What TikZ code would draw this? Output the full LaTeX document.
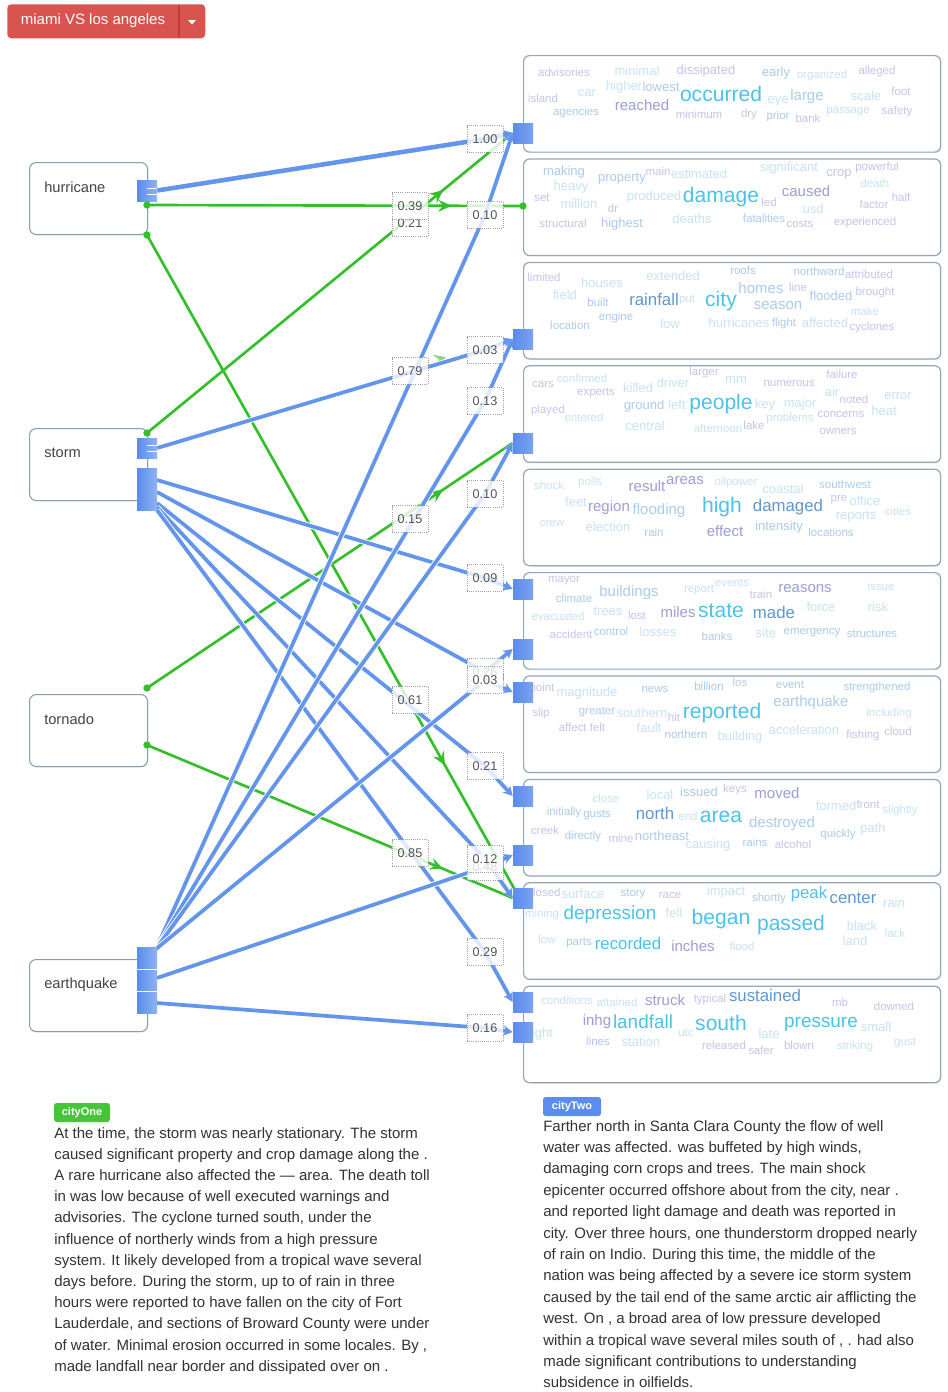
\documentclass[tikz,border=0pt]{standalone}
\usepackage{fontspec}
\setmainfont{Liberation Sans}
\usetikzlibrary{arrows.meta,decorations.markings,shadows}
\definecolor{cX}{HTML}{4CC2EB}
\definecolor{cB}{HTML}{5E98D2}
\definecolor{cU}{HTML}{9C9FD5}
\definecolor{cL}{HTML}{ABCCEC}
\definecolor{cP}{HTML}{C4C5EB}
\definecolor{cQ}{HTML}{C8E3F5}
\definecolor{edgeblue}{HTML}{6495ED}
\definecolor{portblue}{HTML}{5A8CEB}
\definecolor{portlight}{HTML}{8FB3F3}
\definecolor{edgegreen}{HTML}{35BF2C}
\definecolor{boxborder}{HTML}{93A7B8}
\definecolor{lboxborder}{HTML}{849FB6}
\definecolor{btnred}{HTML}{D9534F}
\definecolor{btnline}{HTML}{C23D39}
\definecolor{badgegreen}{HTML}{46C53A}
\definecolor{badgeblue}{HTML}{5B8DEF}
\definecolor{bodytext}{HTML}{333333}
\definecolor{labgray}{HTML}{555555}
\definecolor{nodetext}{HTML}{444444}
\newcounter{wn}
\newcommand\cwd[5]{\stepcounter{wn}\node[wnode,#1,text=#2] (w\arabic{wn}) at (#3,#4) {#5};}
\newcommand\pline[4]{\node[ptext] (#1) at (#2,#3) {#4};}
\pgfdeclarelayer{front}
\pgfsetlayers{main,front}
\begin{document}
\begin{tikzpicture}[x=0.75pt,y=-0.75pt,
  wnode/.style={inner sep=0pt, anchor=center},
  ws/.style={font=\fontsize{8.6}{9}\selectfont},
  wt/.style={font=\fontsize{9.75}{10}\selectfont},
  wm/.style={font=\fontsize{11.25}{12}\selectfont},
  wM/.style={font=\fontsize{12.6}{13}\selectfont},
  wb/.style={font=\fontsize{14.2}{15}\selectfont},
  wB/.style={font=\fontsize{15.8}{16}\selectfont},
  rbox/.style={draw=boxborder, line width=0.9pt, rounded corners=4.5pt, fill=white,
    minimum width=312.75pt, minimum height=72.4pt, anchor=north west, inner sep=0pt,
    drop shadow={opacity=0.12, shadow xshift=0.8pt, shadow yshift=-0.8pt}},
  lbox/.style={draw=lboxborder, line width=0.8pt, rounded corners=5pt, fill=white,
    minimum width=88.5pt, minimum height=54pt, anchor=north west, inner sep=0pt,
    drop shadow={opacity=0.12, shadow xshift=0.8pt, shadow yshift=-0.8pt}},
  ntext/.style={anchor=west, inner sep=0pt, text=nodetext, font=\fontsize{11}{12}\selectfont},
  lport/.style={inner sep=0pt, minimum width=15pt, left color=portblue, right color=portlight},
  rport/.style={inner sep=0pt, minimum width=15pt, minimum height=15pt, left color=portblue, right color=portblue!80!white},
  gdot/.style={circle, fill=edgegreen, minimum size=5.5pt, inner sep=0pt},
  bedge/.style={draw=edgeblue, line width=2.8pt, line join=round,
    preaction={draw=white, line width=4.2pt},
    -{Stealth[length=7pt,width=7.5pt,inset=2pt]}},
  bedgeT/.style={draw=edgeblue, line width=3.4pt, line join=round,
    preaction={draw=white, line width=4.8pt},
    -{Stealth[length=7pt,width=7.5pt,inset=2pt]}},
  gedge/.style={draw=edgegreen, line width=2pt,
    decoration={markings, mark=at position 0.81 with {\arrow[edgegreen]{Stealth[length=10pt,width=9pt,inset=3.5pt]}}},
    postaction={decorate}},
  lab/.style={draw=gray!75, densely dotted, line width=0.6pt, fill=white, fill opacity=0.8,
    text opacity=1, text=labgray, font=\fontsize{9.5}{10}\selectfont,
    minimum width=27pt, minimum height=20pt, inner sep=0pt},
  ptext/.style={anchor=base west, inner sep=0pt, text=bodytext, font=\fontsize{11.25}{12}\selectfont},
  badge/.style={inner sep=0pt, rounded corners=2pt, text=white, font=\bfseries\fontsize{8.25}{9}\selectfont, minimum height=14.25pt}
]
\fill[white] (0,0) rectangle (947,1392);
\useasboundingbox (0,0) rectangle (947,1392);

% ---------- button ----------
\node[fill=btnred, rounded corners=3pt, minimum width=148.5pt, minimum height=25.5pt, anchor=north west, inner sep=0pt] (btn) at (7,4) {};
\coordinate (dv1) at (179,4.5);
\coordinate (dv2) at (179,37.5);
\draw[btnline, line width=0.8pt] (dv1) -- (dv2);
\node[text=white, inner sep=0pt, font=\fontsize{11.25}{12}\selectfont] (btntext) at (93,21) {miami VS los angeles};
\fill[white] (188,20) -- (196,20) -- (192,24.5) -- cycle;

% ---------- right boxes ----------
\node[rbox] (box1) at (523,55) {};
\node[rbox] (box2) at (523,158.4) {};
\node[rbox] (box3) at (523,261.8) {};
\node[rbox] (box4) at (523,365.2) {};
\node[rbox] (box5) at (523,468.6) {};
\node[rbox] (box6) at (523,572) {};
\node[rbox] (box7) at (523,675.4) {};
\node[rbox] (box8) at (523,778.8) {};
\node[rbox] (box9) at (523,882.2) {};
\node[rbox] (box10) at (523,985.6) {};

% ---------- left boxes ----------
\node[lbox] (hur) at (29,162) {};
\node[lbox] (sto) at (29,428) {};
\node[lbox] (tor) at (29,694) {};
\node[lbox] (ear) at (29,959) {};
\node[ntext] (hurT) at (44,187) {hurricane};
\node[ntext] (stoT) at (44,453) {storm};
\node[ntext] (torT) at (44,719) {tornado};
\node[ntext] (earT) at (44,985) {earthquake};

% ---------- word clouds ----------
% box 1
\cwd{ws}{cP}{564}{72}{advisories}
\cwd{wt}{cQ}{637}{71}{minimal}
\cwd{wt}{cP}{706}{71}{dissipated}
\cwd{wt}{cL}{776}{73}{early}
\cwd{ws}{cQ}{822}{76}{organized}
\cwd{ws}{cP}{877}{72}{alleged}
\cwd{ws}{cP}{543}{98}{island}
\cwd{wt}{cQ}{587}{93}{car}
\cwd{wt}{cQ}{624}{87}{higher}
\cwd{wt}{cL}{661}{87}{lowest}
\cwd{wB}{cX}{721}{94}{occurred}
\cwd{wt}{cQ}{778}{101}{eye}
\cwd{wm}{cL}{807}{97}{large}
\cwd{wt}{cQ}{866}{96}{scale}
\cwd{ws}{cP}{901}{91}{foot}
\cwd{wm}{cU}{642}{105}{reached}
\cwd{ws}{cL}{576}{113}{agencies}
\cwd{ws}{cP}{699}{114}{minimum}
\cwd{ws}{cP}{749}{115}{dry}
\cwd{ws}{cL}{778}{117}{prior}
\cwd{ws}{cP}{808}{118}{bank}
\cwd{ws}{cQ}{848}{112}{passage}
\cwd{ws}{cP}{897}{112}{safety}
% box 2
\cwd{wt}{cL}{564}{172}{making}
\cwd{wt}{cL}{622}{179}{property}
\cwd{ws}{cP}{658}{171}{main}
\cwd{wt}{cQ}{699}{174}{estimated}
\cwd{wt}{cQ}{789}{168}{significant}
\cwd{wt}{cP}{839}{174}{crop}
\cwd{ws}{cP}{877}{168}{powerful}
\cwd{wt}{cQ}{571}{187}{heavy}
\cwd{ws}{cQ}{875}{183}{death}
\cwd{ws}{cP}{542}{198}{set}
\cwd{wt}{cQ}{579}{204}{million}
\cwd{ws}{cP}{613}{208}{dr}
\cwd{wt}{cQ}{654}{197}{produced}
\cwd{wB}{cX}{721}{197}{damage}
\cwd{ws}{cP}{769}{202}{led}
\cwd{wm}{cU}{806}{191}{caused}
\cwd{wt}{cQ}{813}{209}{usd}
\cwd{ws}{cP}{874}{204}{factor}
\cwd{ws}{cP}{901}{197}{half}
\cwd{ws}{cP}{563}{223}{structural}
\cwd{wt}{cL}{622}{224}{highest}
\cwd{wt}{cQ}{692}{219}{deaths}
\cwd{ws}{cL}{764}{218}{fatalities}
\cwd{ws}{cP}{800}{224}{costs}
\cwd{ws}{cP}{865}{223}{experienced}
% box 3
\cwd{ws}{cP}{544}{277}{limited}
\cwd{wt}{cQ}{602}{283}{houses}
\cwd{wt}{cQ}{673}{276}{extended}
\cwd{ws}{cL}{743}{270}{roofs}
\cwd{ws}{cL}{819}{271}{northward}
\cwd{ws}{cP}{869}{274}{attributed}
\cwd{wt}{cQ}{565}{295}{field}
\cwd{ws}{cL}{598}{302}{built}
\cwd{wM}{cB}{654}{299}{rainfall}
\cwd{ws}{cQ}{687}{300}{put}
\cwd{wB}{cX}{721}{301}{city}
\cwd{wm}{cL}{761}{288}{homes}
\cwd{ws}{cP}{798}{287}{line}
\cwd{wm}{cL}{778}{306}{season}
\cwd{wt}{cL}{831}{296}{flooded}
\cwd{ws}{cP}{875}{293}{brought}
\cwd{ws}{cQ}{865}{311}{make}
\cwd{ws}{cL}{570}{325}{location}
\cwd{ws}{cL}{616}{318}{engine}
\cwd{wt}{cQ}{670}{324}{low}
\cwd{wt}{cQ}{739}{323}{hurricanes}
\cwd{ws}{cL}{784}{324}{flight}
\cwd{wt}{cQ}{825}{323}{affected}
\cwd{ws}{cP}{872}{328}{cyclones}
% box 4
\cwd{ws}{cP}{543}{384}{cars}
\cwd{ws}{cQ}{582}{378}{confirmed}
\cwd{ws}{cP}{704}{373}{larger}
\cwd{wt}{cQ}{736}{380}{mm}
\cwd{ws}{cP}{789}{383}{numerous}
\cwd{ws}{cP}{842}{374}{failure}
\cwd{ws}{cP}{596}{393}{experts}
\cwd{wt}{cQ}{638}{388}{killed}
\cwd{wt}{cQ}{673}{383}{driver}
\cwd{wt}{cQ}{832}{392}{air}
\cwd{ws}{cP}{854}{399}{noted}
\cwd{wt}{cQ}{898}{396}{error}
\cwd{ws}{cP}{548}{411}{played}
\cwd{ws}{cQ}{584}{417}{entered}
\cwd{wt}{cL}{644}{406}{ground}
\cwd{wt}{cQ}{677}{405}{left}
\cwd{wB}{cX}{721}{404}{people}
\cwd{wt}{cQ}{765}{405}{key}
\cwd{wt}{cQ}{800}{404}{major}
\cwd{ws}{cP}{841}{414}{concerns}
\cwd{wt}{cQ}{884}{411}{heat}
\cwd{wt}{cQ}{645}{426}{central}
\cwd{ws}{cQ}{718}{428}{afternoon}
\cwd{ws}{cP}{754}{425}{lake}
\cwd{ws}{cQ}{790}{419}{problems}
\cwd{ws}{cP}{838}{431}{owners}
% box 5
\cwd{ws}{cQ}{549}{485}{shock}
\cwd{ws}{cQ}{590}{483}{polls}
\cwd{wm}{cU}{647}{486}{result}
\cwd{wm}{cU}{685}{481}{areas}
\cwd{ws}{cQ}{736}{483}{oilpower}
\cwd{wt}{cQ}{783}{489}{coastal}
\cwd{ws}{cL}{845}{484}{southwest}
\cwd{wt}{cQ}{576}{502}{feet}
\cwd{wm}{cU}{609}{508}{region}
\cwd{wm}{cL}{659}{511}{flooding}
\cwd{wB}{cX}{722}{507}{high}
\cwd{wM}{cB}{788}{507}{damaged}
\cwd{ws}{cP}{839}{500}{pre}
\cwd{wt}{cQ}{865}{501}{office}
\cwd{wt}{cQ}{856}{517}{reports}
\cwd{ws}{cQ}{898}{511}{cities}
\cwd{ws}{cQ}{552}{523}{crew}
\cwd{wt}{cQ}{608}{527}{election}
\cwd{ws}{cL}{654}{532}{rain}
\cwd{wm}{cU}{725}{531}{effect}
\cwd{wt}{cL}{779}{527}{intensity}
\cwd{ws}{cL}{831}{532}{locations}
% box 6
\cwd{ws}{cP}{564}{581}{mayor}
\cwd{ws}{cL}{574}{598}{climate}
\cwd{wm}{cL}{629}{593}{buildings}
\cwd{ws}{cQ}{699}{590}{report}
\cwd{ws}{cQ}{732}{583}{events}
\cwd{ws}{cP}{761}{594}{train}
\cwd{wm}{cU}{805}{589}{reasons}
\cwd{ws}{cQ}{881}{586}{issue}
\cwd{ws}{cQ}{558}{616}{evacuated}
\cwd{wt}{cQ}{608}{611}{trees}
\cwd{ws}{cP}{637}{615}{lost}
\cwd{wm}{cU}{678}{612}{miles}
\cwd{wB}{cX}{721}{611}{state}
\cwd{wM}{cB}{774}{612}{made}
\cwd{wt}{cQ}{821}{607}{force}
\cwd{wt}{cQ}{878}{607}{risk}
\cwd{ws}{cP}{571}{634}{accident}
\cwd{ws}{cL}{611}{631}{control}
\cwd{wt}{cQ}{658}{632}{losses}
\cwd{ws}{cL}{717}{636}{banks}
\cwd{wt}{cQ}{766}{633}{site}
\cwd{ws}{cL}{812}{633}{emergency}
\cwd{ws}{cL}{872}{634}{structures}
% box 7
\cwd{ws}{cP}{542}{689}{point}
\cwd{wt}{cQ}{587}{693}{magnitude}
\cwd{ws}{cL}{655}{689}{news}
\cwd{ws}{cL}{709}{686}{billion}
\cwd{ws}{cP}{740}{682}{los}
\cwd{ws}{cL}{790}{685}{event}
\cwd{ws}{cL}{877}{688}{strengthened}
\cwd{ws}{cP}{541}{714}{slip}
\cwd{ws}{cL}{597}{712}{greater}
\cwd{wt}{cQ}{642}{713}{southern}
\cwd{ws}{cP}{674}{717}{hit}
\cwd{wB}{cX}{722}{713}{reported}
\cwd{wm}{cL}{811}{703}{earthquake}
\cwd{ws}{cQ}{889}{714}{including}
\cwd{ws}{cP}{582}{727}{affect felt}
\cwd{wt}{cQ}{649}{728}{fault}
\cwd{ws}{cL}{686}{734}{northern}
\cwd{wt}{cQ}{740}{737}{building}
\cwd{wt}{cQ}{804}{730}{acceleration}
\cwd{ws}{cP}{863}{736}{fishing}
\cwd{ws}{cP}{898}{731}{cloud}
% box 8
\cwd{ws}{cQ}{606}{798}{close}
\cwd{wt}{cQ}{660}{795}{local}
\cwd{wt}{cL}{699}{792}{issued}
\cwd{ws}{cP}{735}{790}{keys}
\cwd{wm}{cU}{777}{793}{moved}
\cwd{wt}{cQ}{836}{806}{formed}
\cwd{ws}{cP}{868}{804}{front}
\cwd{ws}{cQ}{900}{811}{slightly}
\cwd{ws}{cL}{564}{813}{initially}
\cwd{ws}{cL}{597}{815}{gusts}
\cwd{wM}{cB}{655}{813}{north}
\cwd{ws}{cQ}{688}{816}{end}
\cwd{wB}{cX}{721}{817}{area}
\cwd{wm}{cL}{782}{824}{destroyed}
\cwd{ws}{cP}{545}{830}{creek}
\cwd{ws}{cL}{583}{837}{directly}
\cwd{ws}{cP}{621}{838}{mine}
\cwd{wt}{cL}{662}{836}{northeast}
\cwd{wt}{cQ}{708}{845}{causing}
\cwd{ws}{cL}{755}{842}{rains}
\cwd{ws}{cP}{793}{844}{alcohol}
\cwd{ws}{cL}{838}{835}{quickly}
\cwd{wt}{cQ}{873}{829}{path}
% box 9
\cwd{ws}{cP}{544}{892}{closed}
\cwd{wt}{cQ}{583}{894}{surface}
\cwd{ws}{cL}{633}{894}{story}
\cwd{ws}{cP}{670}{895}{race}
\cwd{wt}{cQ}{726}{892}{impact}
\cwd{ws}{cL}{769}{899}{shortly}
\cwd{wM}{cX}{809}{894}{peak}
\cwd{wM}{cB}{853}{898}{center}
\cwd{wt}{cQ}{894}{903}{rain}
\cwd{ws}{cQ}{542}{915}{mining}
\cwd{wb}{cX}{610}{915}{depression}
\cwd{wt}{cQ}{674}{913}{fell}
\cwd{wB}{cX}{721}{919}{began}
\cwd{wB}{cX}{791}{925}{passed}
\cwd{wt}{cQ}{862}{926}{black}
\cwd{ws}{cQ}{895}{933}{lack}
\cwd{ws}{cQ}{547}{939}{low}
\cwd{ws}{cL}{579}{943}{parts}
\cwd{wM}{cX}{628}{943}{recorded}
\cwd{wm}{cU}{693}{946}{inches}
\cwd{ws}{cQ}{742}{946}{flood}
\cwd{wt}{cQ}{855}{941}{land}
% box 10
\cwd{ws}{cQ}{567}{1000}{conditions}
\cwd{ws}{cQ}{617}{1002}{attained}
\cwd{wm}{cU}{665}{1000}{struck}
\cwd{ws}{cP}{710}{1000}{typical}
\cwd{wM}{cB}{765}{995}{sustained}
\cwd{ws}{cP}{840}{1002}{mb}
\cwd{ws}{cP}{894}{1006}{downed}
\cwd{wt}{cQ}{541}{1034}{light}
\cwd{wm}{cU}{597}{1022}{inhg}
\cwd{wb}{cX}{643}{1022}{landfall}
\cwd{wB}{cX}{721}{1023}{south}
\cwd{ws}{cQ}{686}{1033}{utc}
\cwd{wt}{cQ}{769}{1034}{late}
\cwd{wb}{cX}{821}{1024}{pressure}
\cwd{wt}{cQ}{876}{1027}{small}
\cwd{ws}{cL}{598}{1041}{lines}
\cwd{wt}{cQ}{641}{1042}{station}
\cwd{ws}{cP}{724}{1045}{released}
\cwd{ws}{cP}{761}{1050}{safer}
\cwd{ws}{cP}{799}{1045}{blown}
\cwd{ws}{cQ}{855}{1047}{striking}
\cwd{ws}{cQ}{905}{1043}{gust}

% ---------- ports and dots (front layer) ----------
\begin{pgfonlayer}{front}
\node[lport, minimum height=15.75pt] (hP) at (147,190.5) {};
\node[lport, minimum height=15pt] (sP) at (147,448) {};
\node[lport, minimum height=31.5pt] (sQ) at (147,489) {};
\node[lport, minimum height=49.5pt] (eP) at (147,980) {};
\draw[white, line width=0.7pt] (147,188) -- (157,188) (147,194) -- (157,194);
\draw[white, line width=0.7pt] (147,445) -- (157,445) (147,451) -- (157,451);
\draw[white, line width=0.7pt] (137,969) -- (157,969) (137,991) -- (157,991);
\node[rport] (P1) at (523,133) {};
\node[rport] (P3) at (523,339) {};
\node[rport] (P4) at (523,443) {};
\node[rport] (P6a) at (523,589) {};
\node[rport] (P6b) at (523,649) {};
\node[rport] (P7) at (523,692) {};
\node[rport] (P8a) at (523,796) {};
\node[rport] (P8b) at (523,855) {};
\node[rport] (P9) at (523,898) {};
\node[rport] (P10a) at (523,1002) {};
\node[rport] (P10b) at (523,1032) {};
\node[gdot] (hD1) at (147,205) {};
\node[gdot] (hD2) at (147,235) {};
\node[gdot] (sD) at (147,433) {};
\node[gdot] (tD1) at (147,688) {};
\node[gdot] (tD2) at (147,745) {};
\node[gdot] (bD2) at (523,206) {};
\end{pgfonlayer}

% ---------- coordinates ----------
\coordinate (sQ1) at (157,480);
\coordinate (sQ2) at (157,492);
\coordinate (sQ3) at (157,503);
\coordinate (sQ4) at (157,507);
\coordinate (sQ5) at (157,510);
\coordinate (eA) at (156,949);
\coordinate (eB) at (157,978);
\coordinate (eC) at (157,1003);
\coordinate (P9g) at (515,890);
\coordinate (k100) at (485,139);
\coordinate (k010a) at (485,215);
\coordinate (k003a) at (485,350);
\coordinate (k013) at (485,401);
\coordinate (k010b) at (485,494);
\coordinate (k009) at (485,578);
\coordinate (k026) at (485,672);
\coordinate (k003b) at (485,680);
\coordinate (k021b) at (485,766);
\coordinate (k012) at (485,859);
\coordinate (k048) at (485,867);
\coordinate (k029) at (485,952);
\coordinate (k016) at (485,1028);
\coordinate (k039) at (410,206);
\coordinate (k021a) at (410,223);
\coordinate (k079) at (410,371);
\coordinate (k015) at (410,519);
\coordinate (k061) at (410,700);
\coordinate (k085) at (410,853);
\coordinate (g79a) at (428,362.5);
\coordinate (g79b) at (446,357.2);

% ---------- green edges ----------
\draw[gedge] (hD1.center) -- (bD2.center);
\draw[gedge] (sD.center) -- (P1.west);
\draw[gedge] (hD2.center) -- (P9g);
\draw[gedge] (tD1.center) -- (P4.west);
\draw[gedge] (tD2.center) -- (P9.west);
\path[decoration={markings, mark=at position 1 with {\arrow[edgegreen!60]{Stealth[length=9pt,width=9pt,inset=3.5pt]}}}, postaction={decorate}] (g79a) -- (g79b);

% ---------- blue edges ----------
\draw[bedgeT] (hP.east) -- (k100) -- (P1.west);
\draw[bedge] (sP.east) -- (k003a) -- (P3.west);
\draw[bedge] (sQ1) -- (k009) -- (P6a.west);
\draw[bedge] (sQ2) -- (k026) -- (P6b.west);
\draw[bedge] (sQ3) -- (k021b) -- (P8a.west);
\draw[bedge] (sQ4) -- (k012) -- (P9.west);
\draw[bedge] (sQ5) -- (k029) -- (P10a.west);
\draw[bedge] (eA) -- (k010a) -- (P1.west);
\draw[bedge] (eA) -- (k013) -- (P3.west);
\draw[bedge] (eA) -- (k010b) -- (P4.west);
\draw[bedge] (eA) -- (k003b) -- (P7.west);
\draw[bedge] (eB) -- (k048) -- (P8b.west);
\draw[bedge] (eC) -- (k016) -- (P10b.west);

% ---------- labels ----------
\node[lab] (l021a) at (k021a) {0.21};
\node[lab] (l039) at (k039) {0.39};
\node[lab] (l079) at (k079) {0.79};
\node[lab] (l015) at (k015) {0.15};
\node[lab] (l061) at (k061) {0.61};
\node[lab] (l085) at (k085) {0.85};
\node[lab] (l100) at (k100) {1.00};
\node[lab] (l010a) at (k010a) {0.10};
\node[lab] (l003a) at (k003a) {0.03};
\node[lab] (l013) at (k013) {0.13};
\node[lab] (l010b) at (k010b) {0.10};
\node[lab] (l009) at (k009) {0.09};
\node[lab] (l026) at (k026) {0.26};
\node[lab] (l003b) at (k003b) {0.03};
\node[lab] (l021b) at (k021b) {0.21};
\node[lab] (l048) at (k048) {0.48};
\node[lab] (l012) at (k012) {0.12};
\node[lab] (l029) at (k029) {0.29};
\node[lab] (l016) at (k016) {0.16};

% ---------- bottom texts ----------
\node[badge, fill=badgegreen, minimum width=42pt] (bOne) at (82,1112.5) {cityOne};
\node[badge, fill=badgeblue, minimum width=43.5pt] (bTwo) at (572,1106.5) {cityTwo};

\pline{a1}{54}{1138}{At the time, the storm was nearly stationary. The storm}
\pline{a2}{54}{1159.2}{caused significant property and crop damage along the .}
\pline{a3}{54}{1180.4}{A rare hurricane also affected the — area. The death toll}
\pline{a4}{54}{1201.6}{in was low because of well executed warnings and}
\pline{a5}{54}{1222.8}{advisories. The cyclone turned south, under the}
\pline{a6}{54}{1244}{influence of northerly winds from a high pressure}
\pline{a7}{54}{1265.2}{system. It likely developed from a tropical wave several}
\pline{a8}{54}{1286.4}{days before. During the storm, up to of rain in three}
\pline{a9}{54}{1307.6}{hours were reported to have fallen on the city of Fort}
\pline{a10}{54}{1328.8}{Lauderdale, and sections of Broward County were under}
\pline{a11}{54}{1350}{of water. Minimal erosion occurred in some locales. By ,}
\pline{a12}{54}{1371.2}{made landfall near border and dissipated over on .}

\pline{b1}{543}{1131}{Farther north in Santa Clara County the flow of well}
\pline{b2}{543}{1152.4}{water was affected. was buffeted by high winds,}
\pline{b3}{543}{1173.8}{damaging corn crops and trees. The main shock}
\pline{b4}{543}{1195.2}{epicenter occurred offshore about from the city, near .}
\pline{b5}{543}{1216.6}{and reported light damage and death was reported in}
\pline{b6}{543}{1238}{city. Over three hours, one thunderstorm dropped nearly}
\pline{b7}{543}{1259.4}{of rain on Indio. During this time, the middle of the}
\pline{b8}{543}{1280.8}{nation was being affected by a severe ice storm system}
\pline{b9}{543}{1302.2}{caused by the tail end of the same arctic air afflicting the}
\pline{b10}{543}{1323.6}{west. On , a broad area of low pressure developed}
\pline{b11}{543}{1345}{within a tropical wave several miles south of , . had also}
\pline{b12}{543}{1366.4}{made significant contributions to understanding}
\pline{b13}{543}{1387.8}{subsidence in oilfields.}
\end{tikzpicture}
\end{document}
